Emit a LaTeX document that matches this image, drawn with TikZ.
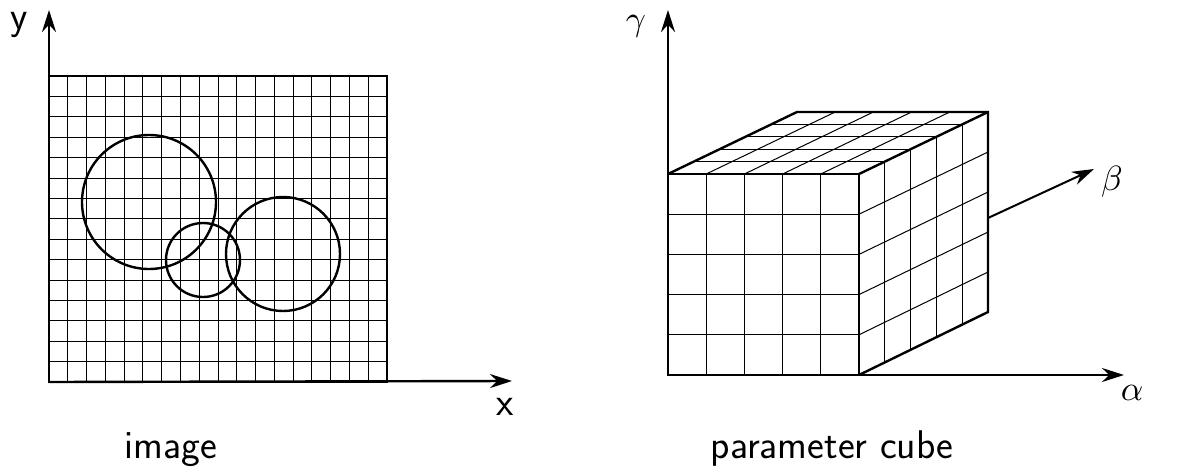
\documentclass[tikz,border=0pt]{standalone}
\usepackage{amsmath}
\usetikzlibrary{calc,arrows.meta}

\begin{document}
\begin{tikzpicture}[x=1pt,y=-1pt,>={Stealth[length=22pt,width=14pt]},
  axis/.style={->,line width=2.4pt},
  frame/.style={line width=2.4pt},
  gridline/.style={line width=1pt},
  blob/.style={line width=2.4pt},
  lbl/.style={font=\fontsize{40}{44}\selectfont\sffamily,anchor=base},
  greek/.style={anchor=base}]

\useasboundingbox (0,0) rectangle (1193,476);

% Image plane
\coordinate (o1) at (49,382);
\coordinate (ic) at (387,76);
\coordinate (xend) at (512,381);
\coordinate (yend) at (49,10);

\foreach \i in {1,...,17}
{
\draw[gridline] ({49+\i*338/18},76) -- ({49+\i*338/18},382);
}
\foreach \j in {1,...,14}
{
\draw[gridline] (49,{76+\j*306/15}) -- (387,{76+\j*306/15});
}
\draw[frame] (o1) rectangle (ic);

% Circles in the image
\draw[blob] (149,202) circle (67pt);
\draw[blob] (203,260) circle (37pt);
\draw[blob] (283,254) circle (57pt);

\draw[axis] (o1) -- (xend);
\draw[axis] (o1) -- (yend);

\node[lbl] (xlab) at (505,415) {x};
\node[lbl] (ylab) at (19,30) {y};
\node[lbl] (imglab) at (171,458) {image};

% Parameter cube
\coordinate (fbl) at (668,375);
\coordinate (fbr) at (859,375);
\coordinate (ftl) at (668,174);
\coordinate (ftr) at (859,174);
\coordinate (bbr) at (988,312);
\coordinate (btr) at (988,112);
\coordinate (btl) at (797,112);

\foreach \t in {0.2,0.4,0.6,0.8}
{
\draw[gridline] ($(fbl)!\t!(fbr)$) -- ($(ftl)!\t!(ftr)$);
\draw[gridline] ($(fbl)!\t!(ftl)$) -- ($(fbr)!\t!(ftr)$);
\draw[gridline] ($(fbr)!\t!(ftr)$) -- ($(bbr)!\t!(btr)$);
\draw[gridline] ($(fbr)!\t!(bbr)$) -- ($(ftr)!\t!(btr)$);
\draw[gridline] ($(ftl)!\t!(ftr)$) -- ($(btl)!\t!(btr)$);
\draw[gridline] ($(ftl)!\t!(btl)$) -- ($(ftr)!\t!(btr)$);
}
\draw[frame] (fbl) rectangle (ftr);
\draw[frame] (fbr) -- (bbr) -- (btr) -- (btl) -- (ftl);
\draw[frame] (ftr) -- (btr);

% Axes of the parameter space
\coordinate (aend) at (1124,375);
\coordinate (gend) at (668,10);
\coordinate (bstart) at ($(bbr)!0.47!(btr)$);
\coordinate (bend) at (1094,169);

\draw[axis] (fbl) -- (aend);
\draw[axis] (fbl) -- (gend);
\draw[axis,line width=2pt] (bstart) -- (bend);

\node[greek] (glab) at (636,31) {\scalebox{3.5}{$\gamma$}};
\node[greek] (blab) at (1112,190) {\scalebox{3.5}{$\beta$}};
\node[greek] (alab) at (1132,400) {\scalebox{3.5}{$\alpha$}};
\node[lbl] (cubelab) at (832,458) {parameter cube};

\end{tikzpicture}
\end{document}
